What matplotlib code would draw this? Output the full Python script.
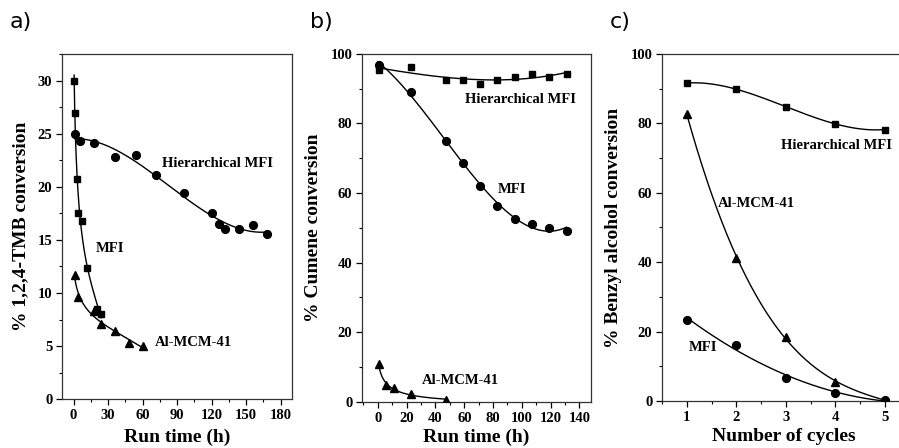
import matplotlib.pyplot as plt
import numpy as np
from matplotlib.ticker import MultipleLocator

# panel a) 1,2,4-TMB
a_hier_x = [1, 6, 18, 36, 54, 72, 96, 120, 126, 132, 144, 156, 168]
a_hier_y = [25.0, 24.3, 24.1, 22.8, 23.0, 21.1, 19.4, 17.5, 16.5, 16.0, 16.0, 16.4, 15.6]
a_mfi_x = [0.5, 1.5, 3, 4, 7.5, 12, 20, 24]
a_mfi_y = [30.0, 27.0, 20.7, 17.5, 16.8, 12.4, 8.5, 8.0]
a_mcm_x = [1, 4, 18, 24, 36, 48, 60]
a_mcm_y = [11.7, 9.6, 8.3, 7.05, 6.4, 5.3, 5.05]

# panel b) cumene
b_x = [1, 23, 47, 59, 71, 83, 95, 107, 119, 131]
b_hier_y = [95.2, 96.3, 92.5, 92.5, 91.4, 92.5, 93.3, 94.1, 93.3, 94.3]
b_mfi_y = [96.8, 89.1, 75.0, 68.5, 62.0, 56.3, 52.6, 51.2, 50.0, 49.2]
b_mcm_x = [0.5, 5.5, 11, 23, 47]
b_mcm_y = [11.0, 4.8, 4.0, 2.4, 0.5]

# panel c) benzyl alcohol
c_x = [1, 2, 3, 4, 5]
c_hier_y = [91.6, 89.9, 84.7, 79.9, 78.2]
c_mcm_y = [82.7, 41.3, 18.4, 5.4, 0.3]
c_mfi_y = [23.4, 16.1, 6.7, 2.2, 0.3]

serif = 'Liberation Serif'
plt.rcParams['font.family'] = serif
plt.rcParams['font.weight'] = 'bold'

fig = plt.figure(figsize=(8.99, 4.48), dpi=100)
ax_a = fig.add_axes([0.069, 0.109, 0.256, 0.770])
ax_b = fig.add_axes([0.4027, 0.103, 0.2547, 0.777])
ax_c = fig.add_axes([0.7364, 0.105, 0.27, 0.7746])


def fit_line(ax, x, y, deg, t=None, n=200, x0=None, x1=None):
    # curva suavizada por ajuste polinomico
    x = np.asarray(x, float)
    y = np.asarray(y, float)
    if t is None:
        t = lambda v: v
    p = np.polyfit(t(x), y, deg)
    xs = np.linspace(x.min() if x0 is None else x0, x.max() if x1 is None else x1, n)
    ax.plot(xs, np.polyval(p, t(xs)), color='black', lw=1.0, zorder=2)


def estilo(ax):
    for s in ax.spines.values():
        s.set_linewidth(0.9)
        s.set_color('#333333')
    ax.tick_params(which='major', direction='out', length=4, width=0.9,
                   labelsize=10.5, top=False, right=False, pad=3)
    ax.tick_params(which='minor', direction='out', length=2.5, width=0.8,
                   top=False, right=False)
    for lab in ax.get_xticklabels() + ax.get_yticklabels():
        lab.set_fontweight('bold')


ms_c = 5.6   # circulos
ms_s = 5.0   # cuadrados
ms_t = 6.0   # triangulos
# ---- a)
ax = ax_a
fit_line(ax, a_hier_x, a_hier_y, 3)
fit_line(ax, a_mfi_x, a_mfi_y, 3, t=np.sqrt)
fit_line(ax, a_mcm_x, a_mcm_y, 3, t=np.sqrt)
ax.plot(a_hier_x, a_hier_y, 'o', color='black', ms=ms_c, zorder=3)
ax.plot(a_mfi_x, a_mfi_y, 's', color='black', ms=ms_s, zorder=3)
ax.plot(a_mcm_x, a_mcm_y, '^', color='black', ms=ms_t, zorder=3)
ax.set_xlim(-10, 190)
ax.set_ylim(0, 32.5)
ax.xaxis.set_major_locator(MultipleLocator(30))
ax.xaxis.set_minor_locator(MultipleLocator(15))
ax.yaxis.set_major_locator(MultipleLocator(5))
ax.yaxis.set_minor_locator(MultipleLocator(2.5))
ax.set_xlabel('Run time (h)', fontsize=14, fontweight='bold', labelpad=5)
ax.set_ylabel('% 1,2,4-TMB conversion', fontsize=14, fontweight='bold', labelpad=6)
ax.text(125, 22.2, 'Hierarchical MFI', ha='center', va='center', fontsize=10.5, fontweight='bold')
ax.text(32, 14.2, 'MFI', ha='center', va='center', fontsize=10.5, fontweight='bold')
ax.text(104, 5.3, 'Al-MCM-41', ha='center', va='center', fontsize=10.5, fontweight='bold')
estilo(ax)

# ---- b)
ax = ax_b
fit_line(ax, b_x, b_hier_y, 3, x0=0)
fit_line(ax, b_x, b_mfi_y, 3, x0=0)
fit_line(ax, b_mcm_x, b_mcm_y, 2, t=lambda v: np.log(v + 1.5))
ax.plot(b_x, b_hier_y, 's', color='black', ms=ms_s, zorder=3)
ax.plot(b_x, b_mfi_y, 'o', color='black', ms=ms_c, zorder=3)
ax.plot(b_mcm_x, b_mcm_y, '^', color='black', ms=ms_t, zorder=3)
ax.set_xlim(-11, 148)
ax.set_ylim(0, 100)
ax.xaxis.set_major_locator(MultipleLocator(20))
ax.xaxis.set_minor_locator(MultipleLocator(10))
ax.yaxis.set_major_locator(MultipleLocator(20))
ax.yaxis.set_minor_locator(MultipleLocator(10))
ax.set_xlabel('Run time (h)', fontsize=14, fontweight='bold', labelpad=3)
ax.set_ylabel('% Cumene conversion', fontsize=14, fontweight='bold', labelpad=6)
ax.text(99, 87, 'Hierarchical MFI', ha='center', va='center', fontsize=10.5, fontweight='bold')
ax.text(93, 61, 'MFI', ha='center', va='center', fontsize=10.5, fontweight='bold')
ax.text(57, 6, 'Al-MCM-41', ha='center', va='center', fontsize=10.5, fontweight='bold')
estilo(ax)

# ---- c)
ax = ax_c
fit_line(ax, c_x, c_hier_y, 3)
fit_line(ax, c_x, c_mcm_y, 3)
fit_line(ax, c_x, c_mfi_y, 2)
ax.plot(c_x, c_hier_y, 's', color='black', ms=ms_s, zorder=3)
ax.plot(c_x, c_mcm_y, '^', color='black', ms=ms_t, zorder=3)
ax.plot(c_x, c_mfi_y, 'o', color='black', ms=ms_c, zorder=3)
ax.set_xlim(0.5, 5.4)
ax.set_ylim(0, 100)
ax.xaxis.set_major_locator(MultipleLocator(1))
ax.xaxis.set_minor_locator(MultipleLocator(0.5))
ax.yaxis.set_major_locator(MultipleLocator(20))
ax.yaxis.set_minor_locator(MultipleLocator(10))
ax.set_xlabel('Number of cycles', fontsize=14, fontweight='bold', labelpad=3)
ax.set_ylabel('% Benzyl alcohol conversion', fontsize=14, fontweight='bold', labelpad=6)
ax.text(4.03, 73.6, 'Hierarchical MFI', ha='center', va='center', fontsize=10.5, fontweight='bold')
ax.text(2.41, 57, 'Al-MCM-41', ha='center', va='center', fontsize=10.5, fontweight='bold')
ax.text(1.32, 15.3, 'MFI', ha='center', va='center', fontsize=10.5, fontweight='bold')
estilo(ax)

# letras de los paneles
for xf, letra in [(10, 'a)'), (310, 'b)'), (610, 'c)')]:
    fig.text(xf / 899, 1 - 22 / 448, letra, fontsize=16, family='DejaVu Sans',
             fontweight='normal', va='center', ha='left')

fig.savefig('out.png', dpi=100)
